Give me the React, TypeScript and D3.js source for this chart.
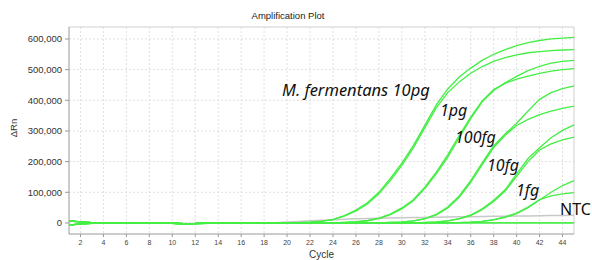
import { useMemo } from 'react';
import * as d3 from 'd3';

// cycles 1..45 on the x axis
const cycleTicks = [2, 4, 6, 8, 10, 12, 14, 16, 18, 20, 22, 24, 26, 28, 30, 32, 34, 36, 38, 40, 42, 44];
const rnTicks = [0, 100000, 200000, 300000, 400000, 500000, 600000];

// baseline wobble for cycles 1..20
const baseHigh = [7000, 3500, 1000, 500, 0, 0, -500, -500, -1000, -1000, -2000, -1500, 0, 1000, 500, 500, 0, 0, 0, 0];
const baseLow = [-7000, -3000, -1000, -500, -500, -500, -1000, -1000, -1000, -1500, -2500, -2000, -1000, 0, 0, -500, -500, 0, 0, 0];

// amplified values from the start cycle to cycle 45
const tenPgA = [1000, 3000, 6000, 12000, 24000, 42000, 66000, 100000, 145000, 195000, 252000, 318000, 385000, 437000, 476000, 505000, 530000, 550000, 565000, 578000, 588000, 595000, 600000, 603000, 605000];
const tenPgB = [1000, 2500, 5500, 11000, 22000, 39000, 62000, 95000, 138000, 188000, 245000, 310000, 375000, 425000, 460000, 488000, 510000, 527000, 539000, 548000, 555000, 559000, 562000, 564000, 565000];
const onePgA = [0, 1500, 3500, 7000, 14000, 27000, 46000, 72000, 112000, 160000, 215000, 278000, 340000, 395000, 432000, 457000, 478000, 497000, 511000, 521000, 527000, 530000];
const onePgB = [0, 2000, 4000, 8000, 16000, 29000, 49000, 76000, 117000, 166000, 222000, 285000, 345000, 398000, 435000, 455000, 469000, 479000, 488000, 495000, 500000, 503000];
const hundredFgA = [0, 1500, 3500, 7000, 14000, 28000, 52000, 88000, 138000, 196000, 252000, 290000, 325000, 365000, 403000, 425000, 438000, 447000];
const hundredFgB = [0, 1500, 3000, 6500, 13000, 26000, 49000, 84000, 132000, 190000, 246000, 286000, 318000, 338000, 353000, 365000, 374000, 381000];
const tenFgA = [0, 1500, 3500, 7000, 14000, 26000, 46000, 74000, 108000, 160000, 210000, 245000, 278000, 302000, 320000];
const tenFgB = [0, 1000, 3000, 6500, 13000, 24000, 43000, 70000, 104000, 152000, 200000, 238000, 258000, 271000, 280000];
const oneFgA = [0, 1000, 2500, 5000, 10000, 18000, 30000, 50000, 75000, 100000, 122000, 138000];
const oneFgB = [0, 1000, 2500, 5500, 11000, 20000, 32000, 52000, 76000, 88000, 95000, 99000];
const ntc: number[] = [];
const grayDrift = [0, 1000, 3000, 5000, 7000, 9000, 10000, 12000, 13500, 14500, 15000, 16000, 17000, 17500, 18000, 19000, 19500, 20000, 20500, 21000, 21500, 22000, 22500, 23000, 23500, 24000, 24500, 25000];

const greenSeries = [
  { start: 21, values: tenPgA, base: baseHigh },
  { start: 21, values: tenPgB, base: baseLow },
  { start: 24, values: onePgA, base: baseHigh },
  { start: 24, values: onePgB, base: baseLow },
  { start: 28, values: hundredFgA, base: baseHigh },
  { start: 28, values: hundredFgB, base: baseLow },
  { start: 31, values: tenFgA, base: baseHigh },
  { start: 31, values: tenFgB, base: baseLow },
  { start: 34, values: oneFgA, base: baseHigh },
  { start: 34, values: oneFgB, base: baseLow },
  { start: 46, values: ntc, base: baseHigh },
  { start: 46, values: ntc, base: baseLow },
];

const labels = [
  { text: 'M. fermentans 10pg', x: 282, y: 96, size: 16.5 },
  { text: '1pg', x: 440, y: 116, size: 16 },
  { text: '100fg', x: 455, y: 143, size: 16 },
  { text: '10fg', x: 487, y: 171, size: 16 },
  { text: '1fg', x: 516, y: 196, size: 16 },
];

const W = 592;
const H = 260;
const m = { left: 69, right: 574, top: 27, bottom: 234 };

function expand(start: number, values: number[], base: number[]): [number, number][] {
  const pts: [number, number][] = [];
  for (let c = 1; c <= 45; c++) {
    let v = 0;
    if (c >= start) v = values[c - start];
    else if (c <= base.length) v = base[c - 1];
    pts.push([c, v]);
  }
  return pts;
}

export default function App() {
  const x = useMemo(() => d3.scaleLinear().domain([1, 45]).range([m.left, m.right]), []);
  const y = useMemo(() => d3.scaleLinear().domain([-36000, 639000]).range([m.bottom, m.top]), []);
  const line = d3.line<[number, number]>().x(d => x(d[0])).y(d => y(d[1]));
  const fmt = d3.format(',');
  const font = '"Liberation Sans", Arial, sans-serif';

  return (
    <svg width={W} height={H} style={{ position: 'absolute', left: 0, top: 0, background: '#fff' }}>
      <text x={288} y={19} fontFamily={font} fontSize={9.5} fill="#222" textAnchor="middle">Amplification Plot</text>

      {/* grid */}
      {cycleTicks.map(t => (
        <line key={'gx' + t} x1={x(t)} x2={x(t)} y1={m.top} y2={m.bottom} stroke="#e0e0e0" strokeDasharray="2,2" />
      ))}
      {rnTicks.map(t => (
        <line key={'gy' + t} x1={m.left} x2={m.right} y1={y(t)} y2={y(t)} stroke="#e0e0e0" strokeDasharray="2,2" />
      ))}

      {/* frame */}
      <line x1={m.left} x2={m.right} y1={m.top} y2={m.top} stroke="#cfcfcf" />
      <line x1={m.right} x2={m.right} y1={m.top} y2={m.bottom} stroke="#cfcfcf" />
      <line x1={m.left} x2={m.left} y1={m.top} y2={m.bottom} stroke="#999" />
      <line x1={m.left} x2={m.right} y1={m.bottom} y2={m.bottom} stroke="#999" />

      {/* y axis */}
      {rnTicks.map(t => (
        <g key={'ty' + t}>
          <line x1={m.left - 4} x2={m.left} y1={y(t)} y2={y(t)} stroke="#999" />
          <text x={m.left - 7} y={y(t) + 3.5} fontFamily={font} fontSize={9.5} fill="#333" textAnchor="end">{fmt(t)}</text>
        </g>
      ))}
      <text transform={`translate(17,${128}) rotate(-90)`} fontFamily={font} fontSize={9.5} fill="#333" textAnchor="middle">ΔRn</text>

      {/* x axis */}
      {cycleTicks.map(t => (
        <g key={'tx' + t}>
          <line x1={x(t)} x2={x(t)} y1={m.bottom} y2={m.bottom + 3} stroke="#999" />
          <text x={x(t)} y={m.bottom + 11} fontFamily={font} fontSize={7} fill="#444" textAnchor="middle">{t}</text>
        </g>
      ))}
      <text x={(m.left + m.right) / 2} y={258} fontFamily={font} fontSize={10} fill="#333" textAnchor="middle">Cycle</text>

      {/* curves */}
      <path d={line(expand(18, grayDrift, baseHigh)) ?? ''} fill="none" stroke="#c8c8c8" strokeWidth={1.5} />
      {greenSeries.map((s, i) => (
        <path key={i} d={line(expand(s.start, s.values, s.base)) ?? ''} fill="none" stroke="#44ee44" strokeWidth={1.3} />
      ))}

      {/* annotations */}
      {labels.map(l => (
        <text key={l.text} x={l.x} y={l.y} fontFamily='"Noto Sans", sans-serif' fontStyle="italic" fontSize={l.size} fill="#111">{l.text}</text>
      ))}
      <text x={560} y={215} fontFamily='"Noto Sans", sans-serif' fontSize={16} fill="#111">NTC</text>
    </svg>
  );
}
